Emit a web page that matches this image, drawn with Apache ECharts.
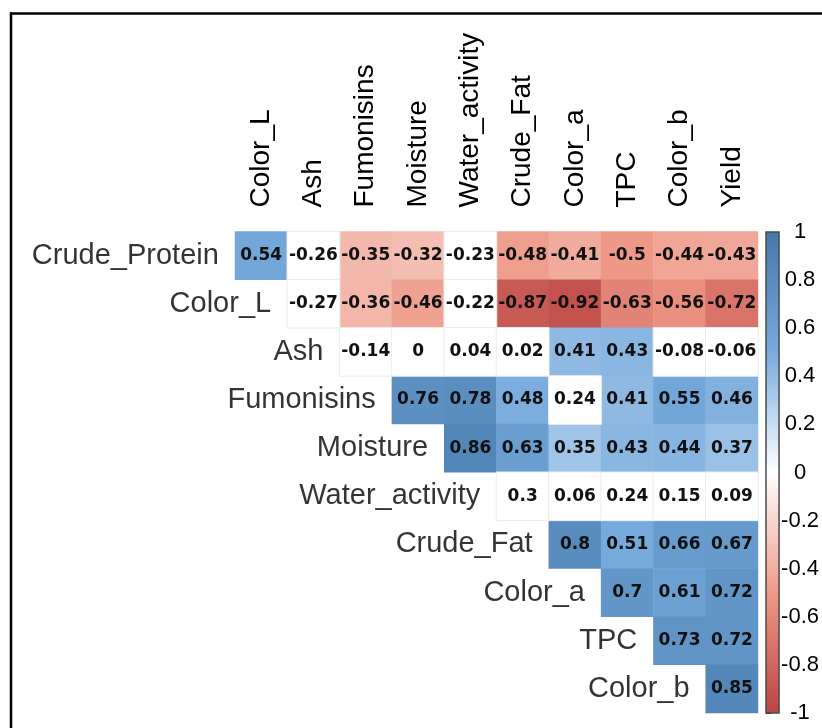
<!DOCTYPE html>
<html>
<head>
<meta charset="utf-8">
<title>Correlation matrix</title>
<script src="https://cdn.jsdelivr.net/npm/echarts@6/dist/echarts.min.js"></script>
<style>
  html, body { margin: 0; padding: 0; background: #ffffff; }
  #chart { width: 822px; height: 728px; }
</style>
</head>
<body>
<div id="chart"></div>
<script>
// Variables shown down the rows and across the columns (upper triangle, no diagonal)
const rowNames = ['Crude_Protein', 'Color_L', 'Ash', 'Fumonisins', 'Moisture',
                  'Water_activity', 'Crude_Fat', 'Color_a', 'TPC', 'Color_b'];
const colNames = ['Color_L', 'Ash', 'Fumonisins', 'Moisture', 'Water_activity',
                  'Crude_Fat', 'Color_a', 'TPC', 'Color_b', 'Yield'];

// Correlation coefficients, one array per row, starting at the column right after the diagonal
const rCrudeProtein  = [0.54, -0.26, -0.35, -0.32, -0.23, -0.48, -0.41, -0.5, -0.44, -0.43];
const rColorL        = [-0.27, -0.36, -0.46, -0.22, -0.87, -0.92, -0.63, -0.56, -0.72];
const rAsh           = [-0.14, 0, 0.04, 0.02, 0.41, 0.43, -0.08, -0.06];
const rFumonisins    = [0.76, 0.78, 0.48, 0.24, 0.41, 0.55, 0.46];
const rMoisture      = [0.86, 0.63, 0.35, 0.43, 0.44, 0.37];
const rWaterActivity = [0.3, 0.06, 0.24, 0.15, 0.09];
const rCrudeFat      = [0.8, 0.51, 0.66, 0.67];
const rColorA        = [0.7, 0.61, 0.72];
const rTPC           = [0.73, 0.72];
const rColorB        = [0.85];
const rowValues = [rCrudeProtein, rColorL, rAsh, rFumonisins, rMoisture,
                   rWaterActivity, rCrudeFat, rColorA, rTPC, rColorB];

// Pairs that are not significant: the coefficient is printed, the cell stays blank
const insignificant = [
  ['Crude_Protein', 'Ash'], ['Crude_Protein', 'Water_activity'],
  ['Color_L', 'Ash'], ['Color_L', 'Water_activity'],
  ['Ash', 'Fumonisins'], ['Ash', 'Moisture'], ['Ash', 'Water_activity'],
  ['Ash', 'Crude_Fat'], ['Ash', 'Color_b'], ['Ash', 'Yield'],
  ['Fumonisins', 'Color_a'],
  ['Water_activity', 'Crude_Fat'], ['Water_activity', 'Color_a'], ['Water_activity', 'TPC'],
  ['Water_activity', 'Color_b'], ['Water_activity', 'Yield']
];

// Colour scale and its legend ticks
const palette = ['#BB4444', '#EE9988', '#FFFFFF', '#77AADD', '#4477AA'];
const scaleMin = -1;
const scaleMax = 1;
const scaleStep = 0.2;

// x categories: one leading slot that holds the first row's name, then the columns
const xCats = [rowNames[0]].concat(colNames);

const isBlank = (r, c) => insignificant.some(p => p[0] === r && p[1] === c);

const sigCells = [];
const blankCells = [];
rowValues.forEach((vals, i) => {
  vals.forEach((v, k) => {
    const colIdx = i + k;           // index into colNames
    const item = [colIdx + 1, i, v];
    if (isBlank(rowNames[i], colNames[colIdx])) blankCells.push(item);
    else sigCells.push(item);
  });
});

// Row names sit in the diagonal slot of each row, right-aligned
const rowLabelPoints = rowNames.map((name, i) => [i, i, name]);

const numLabel = {
  show: true,
  formatter: p => String(p.value[2]),
  fontFamily: 'DejaVu Sans',
  fontWeight: 'bold',
  fontSize: 17,
  color: '#111111'
};

const chart = echarts.init(document.getElementById('chart'), null, { renderer: 'canvas' });

chart.setOption({
  animation: false,
  backgroundColor: '#ffffff',
  grid: [
    { left: 182.7, top: 231.5, width: 575.3, height: 481.5 },
    { left: 766, top: 232, width: 19, height: 481 }
  ],
  xAxis: [
    {
      type: 'category', gridIndex: 0, data: xCats, position: 'top',
      axisLine: { show: false }, axisTick: { show: false }, splitLine: { show: false },
      axisLabel: {
        rotate: -90, margin: 24, interval: 0,
        fontFamily: 'Liberation Sans', fontSize: 28, color: '#000000',
        formatter: (v, idx) => (idx === 0 ? '' : v)
      }
    },
    { type: 'value', gridIndex: 1, min: 0, max: 1, show: false }
  ],
  yAxis: [
    {
      type: 'category', gridIndex: 0, data: rowNames, inverse: true,
      axisLine: { show: false }, axisTick: { show: false }, splitLine: { show: false },
      axisLabel: { show: false }
    },
    {
      type: 'value', gridIndex: 1, min: scaleMin, max: scaleMax, interval: scaleStep,
      position: 'right',
      axisLine: { show: false },
      splitLine: { show: false },
      axisTick: { show: true, inside: false, length: 5, lineStyle: { color: '#222', width: 1 } },
      axisLabel: {
        margin: 21, align: 'center',
        fontFamily: 'Liberation Sans', fontSize: 22, color: '#000000'
      }
    }
  ],
  visualMap: {
    type: 'continuous', show: false, seriesIndex: 0, dimension: 2,
    min: scaleMin, max: scaleMax,
    inRange: { color: palette }
  },
  series: [
    {
      type: 'heatmap', xAxisIndex: 0, yAxisIndex: 0, data: sigCells,
      label: numLabel,
      emphasis: { disabled: true }
    },
    {
      type: 'heatmap', xAxisIndex: 0, yAxisIndex: 0, data: blankCells,
      itemStyle: { color: '#ffffff', borderColor: '#ececec', borderWidth: 1 },
      label: numLabel,
      emphasis: { disabled: true }
    },
    {
      type: 'scatter', xAxisIndex: 0, yAxisIndex: 0, data: rowLabelPoints,
      symbolSize: 0, silent: true,
      label: {
        show: true, position: 'inside', align: 'right', verticalAlign: 'middle',
        offset: [10, 0],
        formatter: p => p.value[2],
        fontFamily: 'Liberation Sans', fontSize: 29, color: '#000000'
      }
    },
    {
      // colour legend bar, spanning the scale from scaleMin to scaleMax
      type: 'custom', xAxisIndex: 1, yAxisIndex: 1, silent: true,
      data: [[0, scaleMin, scaleMax]],
      encode: { x: 0, y: [1, 2] },
      renderItem: (params, api) => {
        const topLeft = api.coord([0, api.value(2)]);
        const bottomRight = api.coord([1, api.value(1)]);
        const n = palette.length - 1;
        const stops = palette.slice().reverse().map((c, i) => ({ offset: i / n, color: c }));
        return {
          type: 'rect',
          shape: {
            x: topLeft[0], y: topLeft[1],
            width: bottomRight[0] - topLeft[0], height: bottomRight[1] - topLeft[1]
          },
          style: {
            fill: new echarts.graphic.LinearGradient(0, 0, 0, 1, stops),
            stroke: '#4a4a4a', lineWidth: 1.5
          }
        };
      }
    }
  ],
  graphic: [
    { type: 'line', shape: { x1: 10, y1: 13.5, x2: 822, y2: 13.5 }, style: { stroke: '#000', lineWidth: 2.5 } },
    { type: 'line', shape: { x1: 11, y1: 12.5, x2: 11, y2: 728 }, style: { stroke: '#000', lineWidth: 2.5 } }
  ]
});
</script>
</body>
</html>
